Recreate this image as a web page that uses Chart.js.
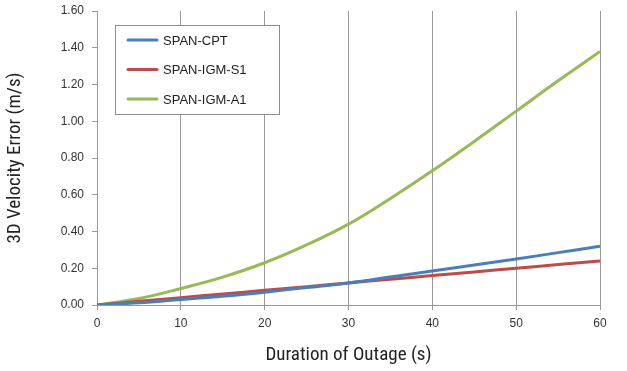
<!DOCTYPE html>
<html>
<head>
<meta charset="utf-8">
<script src="https://cdn.jsdelivr.net/npm/chart.js@4"></script>
<style>
  html, body { margin: 0; padding: 0; background: #fff; }
  #wrap { width: 627px; height: 371px; }
</style>
</head>
<body>
<div id="wrap"><canvas id="outageChart" width="627" height="371"></canvas></div>
<script>
// outage duration (s) vs 3D velocity error (m/s)
const durations = [0, 5, 10, 15, 20, 25, 30, 35, 40, 45, 50, 55, 60];
const spanCpt   = [0, 0.012, 0.03, 0.048, 0.07, 0.095, 0.12, 0.152, 0.185, 0.218, 0.25, 0.285, 0.32];
const spanIgmS1 = [0, 0.02, 0.04, 0.06, 0.08, 0.10, 0.12, 0.14, 0.16, 0.18, 0.20, 0.22, 0.24];
const spanIgmA1 = [0, 0.035, 0.09, 0.152, 0.23, 0.327, 0.44, 0.58, 0.73, 0.89, 1.055, 1.22, 1.38];
const seriesNames = ['SPAN-CPT', 'SPAN-IGM-S1', 'SPAN-IGM-A1'];
const colors = ['#4a7ebb', '#be4b48', '#98b954'];

const toPoints = vals => vals.map((v, i) => ({ x: durations[i], y: v }));
const titleFont = { family: '"Liberation Sans Narrow", "Roboto Condensed", "Liberation Sans", sans-serif', size: 19 };

// legend box drawn inside the plot, top-left
const boxLegend = {
    id: 'boxLegend',
    afterDraw(chart) {
        const ctx = chart.ctx;
        const x0 = 115, y0 = 25, w = 164, h = 89;
        ctx.save();
        ctx.fillStyle = '#fff';
        ctx.fillRect(x0, y0, w, h);
        ctx.strokeStyle = '#8c8c8c';
        ctx.lineWidth = 1;
        ctx.strokeRect(x0 + 0.5, y0 + 0.5, w, h);
        ctx.font = '13px "Liberation Sans", Arial, sans-serif';
        ctx.textBaseline = 'middle';
        chart.data.datasets.forEach((ds, i) => {
            const yy = y0 + 15 + i * 29.5;
            ctx.strokeStyle = ds.borderColor;
            ctx.lineWidth = 3;
            ctx.lineCap = 'round';
            ctx.beginPath();
            ctx.moveTo(128, yy);
            ctx.lineTo(157, yy);
            ctx.stroke();
            ctx.fillStyle = '#222';
            ctx.fillText(ds.label, 163, yy + 1);
        });
        ctx.restore();
    }
};

new Chart(document.getElementById('outageChart'), {
    type: 'scatter',
    data: {
        datasets: [spanCpt, spanIgmS1, spanIgmA1].map((vals, i) => ({
            label: seriesNames[i],
            data: toPoints(vals),
            showLine: true,
            borderColor: colors[i],
            borderWidth: 3,
            pointRadius: 0,
            tension: 0.4,
            fill: false
        }))
    },
    options: {
        responsive: false,
        animation: false,
        layout: { padding: { top: 11, right: 27, left: 0, bottom: 0 } },
        scales: {
            x: {
                type: 'linear', min: 0, max: 60,
                afterFit: s => { s.height = 66; s.paddingLeft = 0; s.paddingRight = 0; },
                ticks: { stepSize: 10, color: '#333', padding: 6, font: { family: '"Liberation Sans", Arial, sans-serif', size: 12 } },
                grid: { color: '#999', lineWidth: 1, tickLength: 5 },
                border: { color: '#999' },
                title: { display: true, text: 'Duration of Outage (s)', color: '#222', padding: { top: 4 }, font: titleFont }
            },
            y: {
                min: 0, max: 1.6,
                afterFit: s => { s.width = 97; s.paddingTop = 0; s.paddingBottom = 0; },
                ticks: { stepSize: 0.2, color: '#333', padding: 8, callback: v => v.toFixed(2),
                         font: { family: '"Liberation Sans", Arial, sans-serif', size: 12 } },
                grid: { drawOnChartArea: false, tickLength: 5, color: '#999' },
                border: { color: '#999' },
                title: { display: true, text: '3D Velocity Error (m/s)', color: '#222', padding: { bottom: 2 }, font: titleFont }
            }
        },
        plugins: { legend: { display: false }, tooltip: { enabled: false } }
    },
    plugins: [boxLegend]
});
</script>
</body>
</html>
